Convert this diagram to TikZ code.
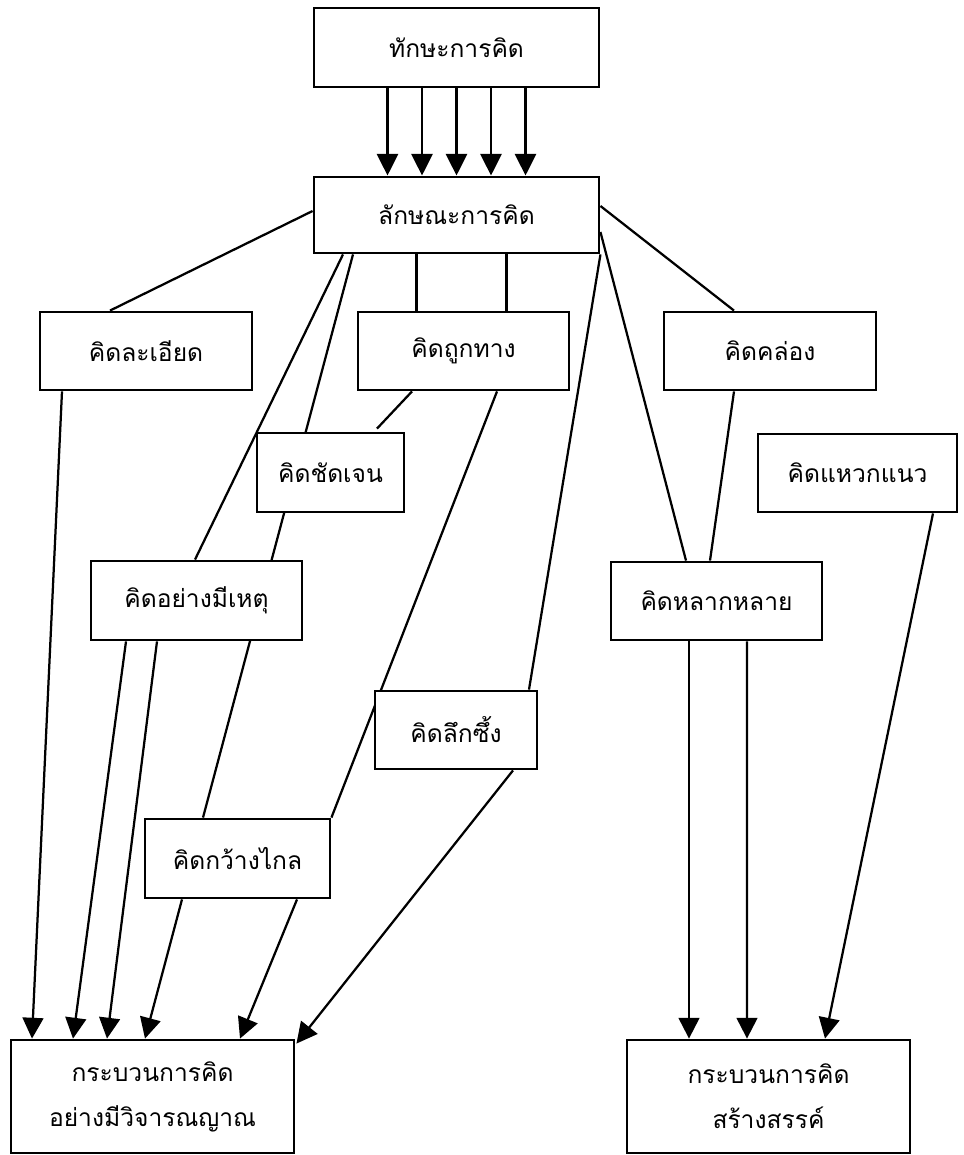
\documentclass[tikz,border=0pt]{standalone}
\usepackage{fontspec}
\setmainfont[Script=Thai]{Loma}
\usetikzlibrary{arrows.meta}
\usetikzlibrary{calc}
\usetikzlibrary{backgrounds}

\begin{document}
\begin{tikzpicture}[x=0.025cm, y=-0.025cm,
    box/.style={draw, line width=2pt, fill=white, minimum height=1.95cm, inner sep=0pt, align=center},
    plain line/.style={line width=1.6pt},
    arrow line/.style={line width=1.6pt, -{Triangle[length=0.52cm, width=0.52cm]}},
    big arrow/.style={line width=2.1pt, -{Triangle[length=0.54cm, width=0.52cm]}},
    every node/.style={color=black, font=\fontsize{17.5pt}{32pt}\selectfont},
    ]

\useasboundingbox (0,0) rectangle (963,1155);

%% draw nodes
\node[box, minimum width=7.125cm, minimum height=1.975cm] (tak) at (456.5,47.5) {ทักษะการคิด};
\node[box, minimum width=7.125cm, minimum height=1.9cm] (lak) at (456.5,215) {ลักษณะการคิด};
\node[box, minimum width=5.3cm] (laeiad) at (146,351) {คิดละเอียด};
\node[box, minimum width=5.275cm] (thuk) at (463.5,351) {คิดถูกทาง};
\node[box, minimum width=5.3cm] (khlong) at (770,351) {คิดคล่อง};
\node[box, minimum width=3.675cm, minimum height=1.975cm] (chat) at (330.5,472.5) {คิดชัดเจน};
\node[box, minimum width=4.975cm] (waek) at (857.5,473) {คิดแหวกแนว};
\node[box, minimum width=5.275cm, minimum height=1.975cm] (het) at (196.5,600.5) {คิดอย่างมีเหตุ};
\node[box, minimum width=5.275cm] (lakhlai) at (716.5,601) {คิดหลากหลาย};
\node[box, minimum width=4.05cm] (luek) at (456,730) {คิดลึกซึ้ง};
\node[box, minimum width=4.625cm, minimum height=1.975cm] (kwang) at (237.5,858.5) {คิดกว้างไกล};
\node[box, minimum width=7.075cm, minimum height=2.825cm] (wicha) at (152.5,1096.5) {กระบวนการคิด\\อย่างมีวิจารณญาณ};
\node[box, minimum width=7.075cm, minimum height=2.825cm] (sang) at (768.5,1096.5) {กระบวนการคิด\\สร้างสรรค์};

\begin{scope}[on background layer]
%% from the top box
\foreach \dx in {-69,-34.5,0,34.5,69}
  \draw[big arrow] ($(tak.south)+(\dx,0)$) -- ($(lak.north)+(\dx,0)$);

%% plain lines
\draw[plain line] ($(lak.west)+(0,-4)$) -- ($(laeiad.north)+(-36,0)$);
\draw[plain line] ($(lak.south)+(-40,0)$) -- ($(thuk.north)+(-47,0)$);
\draw[plain line] ($(lak.south)+(50,0)$) -- ($(thuk.north)+(43,0)$);
\draw[plain line] ($(lak.south)+(-113.5,0)$) -- ($(het.north)+(-1.5,0)$);
\draw[plain line] ($(lak.south)+(-103.5,0)$) -- ($(kwang.north)+(-34.5,0)$);
\draw[plain line] (lak.south east) -- ($(luek.north)+(73,0)$);
\draw[plain line] ($(lak.east)+(0,17)$) -- ($(lakhlai.north)+(-30.5,0)$);
\draw[plain line] ($(lak.east)+(0,-9)$) -- ($(khlong.north)+(-36,0)$);
\draw[plain line] ($(thuk.south)+(-51.5,0)$) -- ($(chat.north)+(46.5,-3)$);
\draw[plain line] ($(thuk.south)+(33.5,0)$) -- (kwang.north east);
\draw[plain line] ($(khlong.south)+(-36,0)$) -- ($(lakhlai.north)+(-6.5,0)$);

%% arrows to the two processes
\draw[arrow line] ($(laeiad.south)+(-84,0)$) -- ($(wicha.north)+(-120.5,0)$);
\draw[arrow line] ($(het.south)+(-70.5,0)$) -- ($(wicha.north)+(-79.5,0)$);
\draw[arrow line] ($(het.south)+(-39.5,0)$) -- ($(wicha.north)+(-45.5,0)$);
\draw[arrow line] ($(kwang.south)+(-55.5,0)$) -- ($(wicha.north)+(-7.5,0)$);
\draw[arrow line] ($(kwang.south)+(59.5,0)$) -- ($(wicha.north)+(87.5,0)$);
\draw[arrow line] ($(luek.south)+(57,0)$) -- ($(wicha.north east)+(1,5)$);
\draw[arrow line] ($(lakhlai.south)+(-27.5,0)$) -- ($(sang.north)+(-79.5,0)$);
\draw[arrow line] ($(lakhlai.south)+(30.5,0)$) -- ($(sang.north)+(-21.5,0)$);
\draw[arrow line] ($(waek.south)+(75.5,0)$) -- ($(sang.north)+(56.5,0)$);
\end{scope}

\end{tikzpicture}
\end{document}
